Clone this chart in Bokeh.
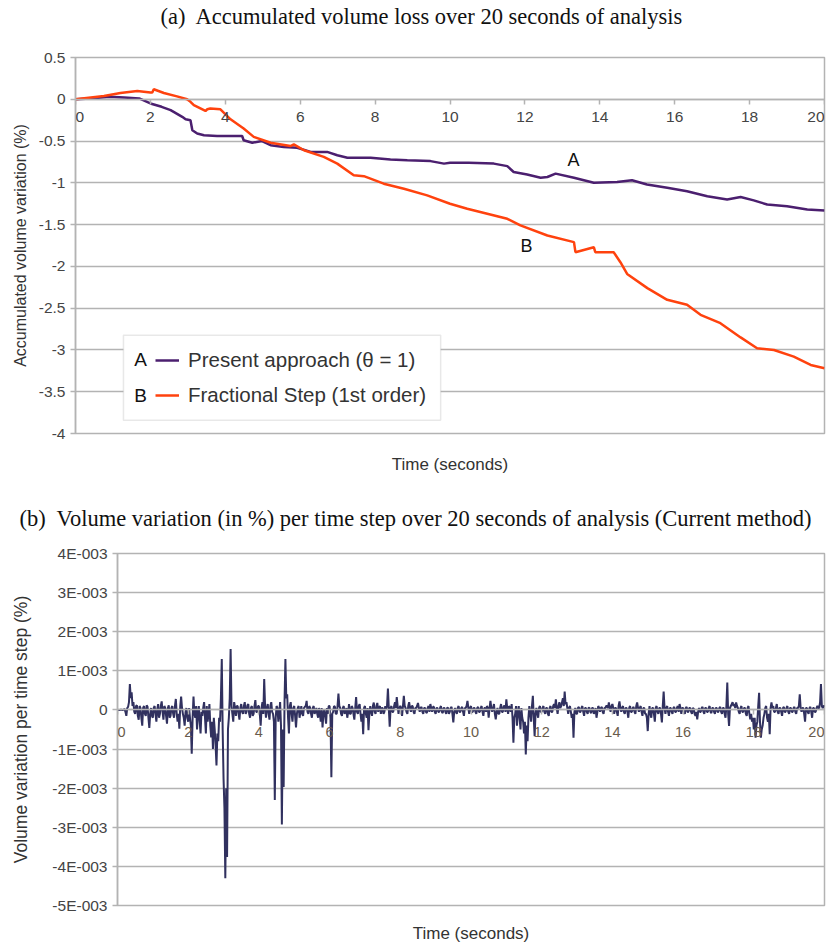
from bokeh.plotting import figure
from bokeh.layouts import column
from bokeh.models import (Range1d, FixedTicker, CustomJSTickFormatter, LinearAxis,
                          Title, Legend, LegendItem, Label, BoxAnnotation)
from bokeh.embed import file_html
from bokeh.resources import INLINE

# ---------------- data: (a) accumulated volume variation (%) ----------------
time_a = [0, 0.4, 0.9, 1.3, 1.7, 2.0, 2.3, 2.54, 2.85, 2.94, 3.07, 3.12, 3.25, 3.43, 3.78,
          4.1, 4.45, 4.49, 4.72, 4.98, 5.21, 5.56, 5.92, 6.28, 6.72, 6.99, 7.26, 7.88, 8.41,
          8.86, 9.48, 9.84, 10.0, 10.5, 11.17, 11.53, 11.7, 12.06, 12.42, 12.6, 12.82, 13.31,
          13.84, 14.46, 14.86, 15.26, 15.8, 16.33, 16.87, 17.4, 17.76, 18.11, 18.47, 19.0,
          19.54, 20.0]
present_approach = [0, 0.01, 0.03, 0.02, 0.01, -0.05, -0.09, -0.13, -0.21, -0.24, -0.25, -0.37,
                    -0.41, -0.43, -0.44, -0.44, -0.44, -0.49, -0.52, -0.50, -0.55, -0.57, -0.58,
                    -0.63, -0.63, -0.67, -0.70, -0.70, -0.72, -0.73, -0.74, -0.77, -0.76, -0.76,
                    -0.77, -0.80, -0.87, -0.90, -0.94, -0.93, -0.89, -0.94, -1.0, -0.99, -0.97,
                    -1.02, -1.06, -1.10, -1.16, -1.20, -1.17, -1.21, -1.26, -1.28, -1.32, -1.33]

time_b = [0, 0.76, 1.2, 1.65, 2.0, 2.05, 2.09, 2.36, 2.71, 2.98, 3.07, 3.16, 3.47, 3.52, 3.6,
          3.87, 4.14, 4.49, 4.76, 5.21, 5.74, 5.83, 6.1, 6.63, 6.99, 7.43, 7.7, 8.23, 8.77, 9.39,
          10.0, 10.46, 11.53, 11.88, 12.6, 13.31, 13.35, 13.84, 13.88, 14.37, 14.55, 14.73,
          15.27, 15.8, 16.33, 16.69, 17.22, 17.76, 18.2, 18.65, 19.18, 19.63, 20.0]
fractional_step = [0, 0.04, 0.075, 0.10, 0.08, 0.08, 0.12, 0.075, 0.035, 0.0, -0.03, -0.07,
                   -0.14, -0.12, -0.11, -0.12, -0.24, -0.35, -0.45, -0.52, -0.56, -0.54, -0.61,
                   -0.69, -0.77, -0.91, -0.92, -1.01, -1.07, -1.15, -1.25, -1.31, -1.43, -1.51,
                   -1.63, -1.71, -1.83, -1.77, -1.83, -1.83, -1.95, -2.09, -2.26, -2.40, -2.46,
                   -2.58, -2.68, -2.85, -2.98, -3.0, -3.08, -3.18, -3.22]

legend_labels = ["Present approach (\u03b8 = 1)", "Fractional Step (1st order)"]
series_letters = ["A", "B"]
x_ticks_a = [0, 2, 4, 6, 8, 10, 12, 14, 16, 18, 20]
y_ticks_a = [0.5, 0, -0.5, -1, -1.5, -2, -2.5, -3, -3.5, -4]

# ---------------- data: (b) volume variation per time step, in units of 1E-003 % -------------
step_dt = 0.025
step_variation_e3 = [
    # 0 - 1 s
    0, 0, 0, 0, 0.01, 0, 0, 0.01, 0.02, -0.05, -0.15, 0.05, 0.08, 0.2, 0.66, 0.3, 0.45, 0.1, 0.2, -0.05,
    -0.1, 0.1, 0.12, -0.15, -0.25, 0.1, 0.05, -0.2, -0.4, 0.05, 0.1, -0.1, -0.15, 0.12, 0.08, -0.2, -0.46, -0.1, 0.05, -0.15,
    # 1 - 2 s
    -0.2, 0.05, 0.1, -0.1, -0.3, 0.02, 0.15, -0.2, -0.1, 0.1, 0.22, -0.05, -0.25, 0.1, 0.05, -0.15, -0.35, 0.05, 0.12, -0.2,
    -0.15, 0.05, 0.1, -0.1, -0.2, 0.1, 0.28, -0.1, -0.3, -0.1, -0.48, 0.1, 0.34, 0.05, -0.1, -0.2, -0.4, -0.05, 0.05, -0.2,
    # 2 - 3 s
    -0.3, 0.05, -0.2, -0.4, -1.12, -0.2, 0.34, -0.1, -0.2, 0.1, -0.5, -0.1, 0.1, -0.3, -0.6, -0.05, -0.15, 0.05, 0.2, -0.2,
    -0.6, 0.1, -0.3, -0.1, 0.15, -0.4, -0.7, -0.3, -1.0, -0.2, -0.5, -0.9, -1.42, -0.6, -0.8, -0.2, -0.3, 0.3, 1.3, -0.5,
    # 3 - 4 s
    -1.76, -2.5, -4.3, -2.0, -3.76, -0.5, -0.2, 0.3, 1.56, 0.1, -0.1, -0.3, 0.2, 0.05, -0.15, 0.1, 0.1, -0.1, -0.25, 0.05,
    0.15, -0.05, -0.1, 0.1, 0.2, -0.1, -0.05, 0.12, 0.15, -0.1, -0.2, 0.05, 0.1, -0.15, -0.1, 0.1, 0.25, -0.05, -0.05, 0.1,
    # 4 - 5 s
    0.1, -0.1, -0.4, 0.05, 0.2, -0.1, 0.79, 0.1, -0.2, 0.05, 0.15, -0.1, -0.25, 0.1, 0.2, -0.05, -0.1, -0.3, -2.3, -0.2,
    0.1, 0.05, -0.3, -0.1, 0.2, -0.4, -2.93, -0.5, -1.97, 0.2, 1.3, 0.3, 0.4, -0.2, -0.6, 0.1, 0.2, -0.1, -0.3, 0.05,
    # 5 - 6 s
    0.1, -0.15, -0.45, -0.1, 0.05, 0.1, -0.2, -0.05, 0.1, -0.1, -0.15, 0.05, 0.08, 0.1, 0.23, -0.05, -0.1, 0.1, 0.05, -0.1,
    -0.2, 0.05, 0.1, -0.1, -0.05, 0.05, -0.1, -0.2, 0.05, -0.1, -0.3, 0.05, -0.45, -0.1, 0.02, -0.15, -0.35, 0.05, -0.1, 0.1,
    # 6 - 7 s
    0.1, -0.2, -1.72, -0.1, -0.05, 0.1, 0.08, -0.1, -0.1, 0.1, 0.42, 0.1, 0.05, -0.1, -0.15, 0.05, 0.1, -0.1, -0.05, 0.05,
    -0.2, -0.05, 0.15, -0.1, -0.1, 0.1, 0.05, -0.1, -0.25, 0.05, 0.33, -0.05, -0.1, 0.1, 0.15, -0.1, -0.3, -0.1, -0.62, 0.05,
    # 7 - 8 s
    0.1, -0.1, -0.2, 0.05, -0.52, -0.1, 0.1, -0.05, -0.15, 0.1, 0.19, -0.05, -0.1, 0.1, 0.18, -0.05, 0.05, 0.1, -0.1, 0.05,
    0.05, -0.1, -0.05, 0.1, 0.02, 0.1, 0.55, 0.05, -0.43, 0.05, 0.1, -0.05, -0.05, 0.1, 0.2, 0.05, 0.33, 0.1, -0.1, 0.05,
    # 8 - 9 s
    0.1, 0.05, -0.15, 0.1, 0.36, 0.1, 0.05, -0.05, -0.1, 0.1, 0.2, 0.05, -0.05, 0.1, 0.1, -0.05, -0.1, 0.05, 0.05, 0.1,
    0.18, 0.05, -0.05, 0.05, 0.08, -0.05, -0.1, 0.05, 0.05, -0.05, -0.08, 0.05, 0.1, -0.05, 0.15, 0.05, -0.05, 0.08, 0.08, -0.05,
    # 9 - 10 s
    -0.1, 0.05, 0.05, -0.05, -0.05, 0.05, 0.1, -0.05, -0.08, 0.05, 0.05, -0.05, -0.1, 0.05, 0.06, -0.1, -0.05, 0.05, 0.08, -0.1,
    -0.32, -0.05, 0.05, -0.05, -0.1, 0.05, 0.1, -0.05, -0.05, 0.05, 0.08, -0.05, -0.15, 0.05, 0.05, 0.1, 0.23, 0.05, -0.1, 0.05,
    # 10 - 11 s
    0.1, -0.05, -0.05, 0.05, 0.05, -0.05, -0.1, 0.05, 0.08, -0.05, -0.05, 0.05, 0.1, -0.05, -0.15, 0.05, 0.05, -0.05, 0.1, 0.05,
    -0.2, 0.05, 0.23, 0.05, -0.05, 0.05, 0.15, -0.1, -0.24, -0.05, 0.05, -0.1, -0.1, 0.05, 0.15, -0.05, -0.05, 0.1, 0.1, -0.05,
    # 11 - 12 s
    0.27, 0.05, -0.1, 0.1, 0.05, -0.05, 0.15, -0.2, -0.84, -0.2, -0.1, 0.1, -0.4, -0.1, 0.1, -0.2, -0.5, 0.05, -0.2, -0.3,
    -0.6, -0.3, -1.14, -0.4, -0.8, -0.2, 0.1, -0.1, -0.3, 0.1, 0.36, -0.2, -0.67, -0.1, 0.05, -0.1, -0.2, 0.05, 0.1, -0.05,
    # 12 - 13 s
    -0.05, 0.05, 0.1, -0.05, -0.1, 0.05, 0.05, -0.1, -0.15, 0.05, 0.1, -0.05, -0.05, 0.1, 0.15, 0.05, 0.27, 0.05, -0.1, 0.1,
    0.2, 0.05, 0.1, 0.2, 0.3, 0.1, 0.47, 0.15, 0.2, 0.05, -0.1, 0.05, 0.1, -0.05, -0.2, -0.1, -0.71, -0.05, 0.05, -0.1,
    # 13 - 14 s
    -0.1, 0.05, 0.08, -0.05, -0.05, 0.05, 0.1, -0.05, -0.15, 0.05, 0.05, -0.05, -0.1, 0.05, 0.06, -0.05, -0.08, 0.05, 0.05, -0.1,
    -0.05, 0.05, -0.2, -0.05, 0.1, 0.05, -0.05, 0.05, 0.08, -0.05, -0.1, 0.05, 0.05, 0.1, 0.1, 0.05, 0.19, 0.05, -0.05, 0.1,
    # 14 - 15 s
    0.15, 0.05, -0.1, 0.05, 0.05, -0.05, -0.15, 0.1, 0.22, 0.05, -0.05, 0.05, 0.1, -0.05, -0.1, 0.05, 0.05, -0.05, -0.2, 0.05,
    0.1, -0.05, -0.05, 0.05, 0.08, -0.05, -0.1, 0.1, 0.19, 0.05, -0.05, 0.05, 0.1, -0.05, -0.15, 0.05, 0.05, -0.1, -0.1, -0.2,
    # 15 - 16 s
    -0.54, -0.1, 0.1, -0.1, -0.2, 0.05, 0.05, -0.1, -0.3, 0.05, 0.1, -0.05, -0.1, 0.05, 0.05, -0.1, -0.32, 0.1, 0.47, 0.05,
    -0.1, 0.05, 0.1, -0.05, -0.15, 0.05, 0.05, -0.05, -0.1, 0.05, 0.08, -0.05, -0.05, 0.05, 0.1, -0.05, 0.15, 0.05, -0.1, 0.05,
    # 16 - 17 s
    0.05, -0.05, -0.1, 0.05, 0.08, -0.05, -0.05, 0.05, 0.05, -0.05, -0.1, 0.05, 0.03, -0.1, -0.15, -0.05, -0.24, -0.05, 0.05, -0.05,
    -0.05, 0.05, 0.08, -0.05, -0.1, 0.05, 0.05, -0.05, -0.05, 0.05, 0.1, -0.05, -0.08, 0.05, 0.05, -0.05, -0.1, 0.05, 0.05, -0.05,
    # 17 - 18 s
    -0.05, 0.05, 0.08, -0.05, -0.1, 0.05, 0.05, -0.1, -0.2, 0.1, 0.7, -0.1, -0.41, 0.05, 0.1, 0.15, 0.2, 0.1, 0.15, 0.05,
    0.19, 0.1, 0.05, -0.05, -0.1, 0.05, 0.1, -0.05, -0.05, 0.05, 0.05, -0.1, -0.15, 0.05, 0.1, -0.1, -0.24, -0.1, -0.3, -0.2,
    # 18 - 19 s
    -0.5, -0.2, -0.71, -0.4, -0.3, 0.1, 0.44, -0.3, -0.71, -0.5, -0.4, -0.2, -0.1, 0.05, 0.1, -0.2, -0.3, -0.1, -0.62, 0.05,
    0.19, 0.05, 0.1, -0.05, -0.05, 0.05, 0.15, -0.05, -0.1, 0.05, 0.05, -0.05, -0.15, 0.05, 0.08, -0.05, -0.05, 0.05, 0.1, -0.05,
    # 19 - 20 s
    -0.1, 0.05, 0.05, -0.05, -0.05, 0.05, 0.08, -0.05, -0.1, 0.05, 0.05, 0.1, 0.4, 0.05, -0.05, 0.05, 0.05, -0.1, -0.3, 0.05,
    0.05, -0.05, -0.1, 0.05, 0.08, -0.05, -0.2, 0.05, 0.05, -0.05, -0.05, 0.05, 0.1, 0.05, 0.05, 0.2, 0.66, 0.1, 0.05, 0.1,
    0.1,
]
step_time = [round(i * step_dt, 3) for i in range(len(step_variation_e3))]
x_ticks_b = [0, 2, 4, 6, 8, 10, 12, 14, 16, 18, 20]
y_ticks_b = [4, 3, 2, 1, 0, -1, -2, -3, -4, -5]

# ---------------- styles ----------------
GRID = "#b3b3b3"
TICK_TXT = "#444444"
LABEL_TXT = "#333333"
SANS = "Liberation Sans"
SERIF = "Liberation Serif"
COL_A = "#4b1f6f"
COL_B = "#ff420e"
COL_STEP = "#31315f"


def style(p, xt, yt, yfmt, tick_px, xtick_px, xtick_color, ylab_px, xlab_standoff, xlab_offset):
    p.frame_align = False
    p.background_fill_color = "white"
    p.border_fill_color = "white"
    p.outline_line_color = GRID
    p.outline_line_width = 1.5
    p.xgrid.visible = False
    yticker = FixedTicker(ticks=yt)
    p.yaxis.ticker = yticker
    p.ygrid.ticker = yticker
    p.ygrid.grid_line_color = GRID
    p.ygrid.grid_line_width = 1.5
    p.yaxis.formatter = CustomJSTickFormatter(code=yfmt)
    xax = p.xaxis[0]
    xax.ticker = FixedTicker(ticks=xt)
    xax.fixed_location = 0
    xax.formatter = CustomJSTickFormatter(code="return '';")
    for ax in (p.xaxis[0], p.yaxis[0]):
        ax.axis_line_color = GRID
        ax.axis_line_width = 1.5
        ax.major_tick_line_color = GRID
        ax.major_tick_line_width = 1.5
        ax.major_tick_in = 0
        ax.major_tick_out = 5
        ax.minor_tick_line_color = None
        ax.major_label_text_font = SANS
        ax.major_label_text_font_size = tick_px
        ax.major_label_text_color = TICK_TXT
        ax.axis_label_text_font = SANS
        ax.axis_label_text_font_size = ylab_px
        ax.axis_label_text_font_style = "normal"
        ax.axis_label_text_color = LABEL_TXT
    # x tick labels next to the axis that crosses at zero; end labels kept inside the frame
    for i, v in enumerate(xt):
        align = "left" if i == 0 else ("right" if i == len(xt) - 1 else "center")
        p.add_layout(Label(x=v, y=0, text=str(v), y_offset=xlab_offset, text_align=align,
                           text_baseline="top", text_font=SANS, text_font_size=xtick_px,
                           text_color=xtick_color))
    lab = LinearAxis(axis_label="Time (seconds)", ticker=FixedTicker(ticks=[]),
                     axis_line_color=None, major_tick_line_color=None,
                     minor_tick_line_color=None,
                     axis_label_text_font=SANS, axis_label_text_font_size="17px",
                     axis_label_text_font_style="normal", axis_label_text_color=LABEL_TXT,
                     axis_label_standoff=xlab_standoff)
    p.add_layout(lab, "below")


def add_title(p, text, offset, gap):
    # an invisible spacer sits between the frame and the title, pushing the title upward
    p.add_layout(Title(text=" ", text_font_size="1px", standoff=gap), "above")
    p.add_layout(Title(text=text, align="left", offset=offset, vertical_align="top",
                       standoff=0, text_font=SERIF, text_font_size="22.5px",
                       text_font_style="normal", text_color="#111111"), "above")


# ---------------- figure (a) ----------------
p1 = figure(width=833, height=490, output_backend="svg", toolbar_location=None,
            x_range=Range1d(0, 20), y_range=Range1d(-4, 0.5),
            min_border_left=75, min_border_right=9, min_border_top=57, min_border_bottom=57)
p1.title = None
style(p1, x_ticks_a, y_ticks_a, "return tick.toString();", "15.5px", "15.5px", TICK_TXT,
      "16px", 21, -13)
p1.yaxis.axis_label = "Accumulated volume variation (%)"
p1.yaxis.axis_label_standoff = 7
add_title(p1, "(a)\u00a0 Accumulated volume loss over 20 seconds of analysis", 85, 24)

r_a = p1.line(time_a, present_approach, line_color=COL_A, line_width=2.5)
r_b = p1.line(time_b, fractional_step, line_color=COL_B, line_width=2.5)

p1.add_layout(BoxAnnotation(left=1.28, right=9.75, top=-2.823, bottom=-3.84,
                            fill_color="white", fill_alpha=1.0,
                            line_color=GRID, line_width=1.5))
legend = Legend(items=[LegendItem(label=legend_labels[0], renderers=[r_a]),
                       LegendItem(label=legend_labels[1], renderers=[r_b])],
                location=(80, 25), border_line_color=None, background_fill_alpha=0,
                padding=0, margin=0, spacing=9, label_height=26, glyph_height=26,
                glyph_width=24, label_standoff=9, label_text_font=SANS,
                label_text_font_size="20.5px", label_text_color=LABEL_TXT)
p1.add_layout(legend)
for letter, yv in zip(series_letters, [-3.12, -3.54]):
    p1.add_layout(Label(x=1.74, y=yv, text=letter, text_align="center",
                        text_baseline="middle", text_font=SANS,
                        text_font_size="19px", text_color="#111111"))
p1.add_layout(Label(x=13.3, y=-0.73, text=series_letters[0], text_align="center",
                    text_baseline="middle", text_font=SANS, text_font_size="18px",
                    text_color="#111111"))
p1.add_layout(Label(x=12.04, y=-1.76, text=series_letters[1], text_align="center",
                    text_baseline="middle", text_font=SANS, text_font_size="18px",
                    text_color="#111111"))

# ---------------- figure (b) ----------------
p2 = figure(width=833, height=456, output_backend="svg", toolbar_location=None,
            x_range=Range1d(0, 20), y_range=Range1d(-5, 4),
            min_border_left=117, min_border_right=9, min_border_top=63, min_border_bottom=41)
p2.title = None
style(p2, x_ticks_b, y_ticks_b,
      "if (tick == 0) { return '0'; } return Math.round(tick) + 'E-003';",
      "15.5px", "14.5px", "#6a5c4c", "17.5px", 18, -17)
p2.yaxis.axis_label = "Volume variation per time step (%)"
p2.yaxis.axis_label_standoff = 18
add_title(p2, "(b)\u00a0 Volume variation (in %) per time step over 20 seconds of analysis (Current method)",
          -98, 18)
p2.line(step_time, step_variation_e3, line_color=COL_STEP, line_width=2)

layout = column(p1, p2, spacing=0)
open("out.html", "w").write(file_html(layout, INLINE))
